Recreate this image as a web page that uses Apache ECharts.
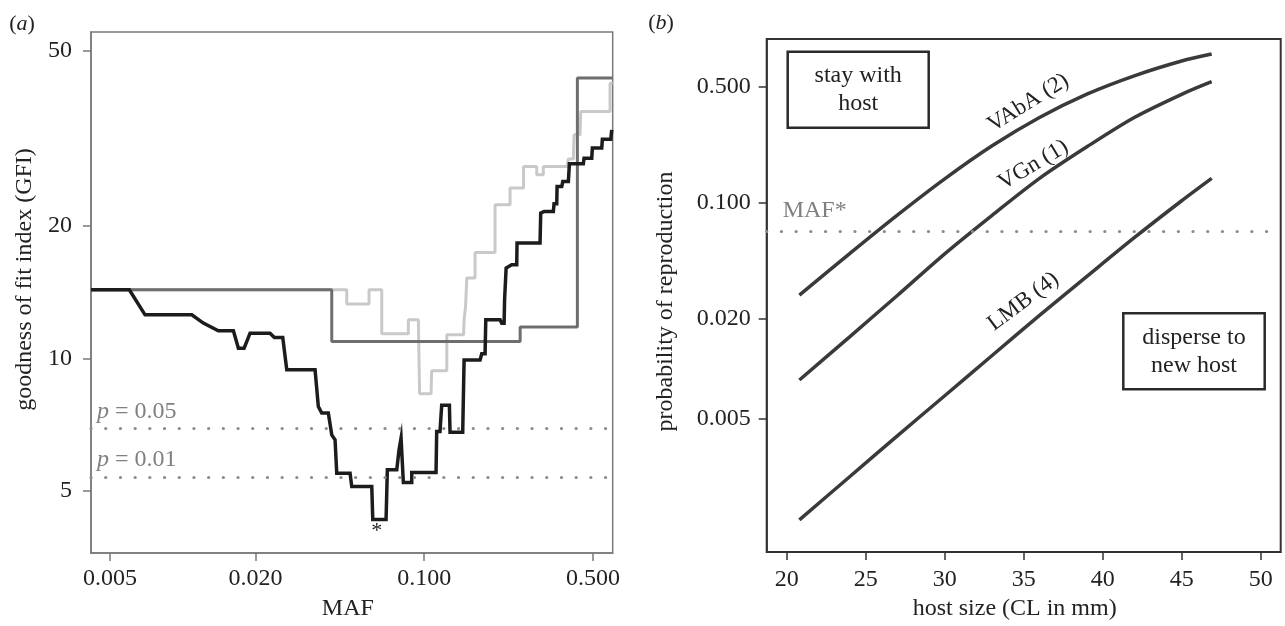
<!DOCTYPE html>
<html><head><meta charset="utf-8">
<script src="https://cdn.jsdelivr.net/npm/echarts@6/dist/echarts.min.js"></script>
<style>html,body{margin:0;padding:0;background:#fff}#c{width:1285px;height:626px}</style>
</head><body><div id="c"></div>
<script>
// ---------- panel (a) data ----------
const mafTicks = [0.005, 0.02, 0.1, 0.5];
const gfiTicks = [5, 10, 20, 50];
const blackMAF = [0.00417, 0.00601, 0.00698, 0.01090, 0.01217, 0.01404, 0.01621, 0.01700, 0.01795, 0.01900, 0.02298, 0.02395, 0.02595, 0.02696, 0.03531, 0.03643, 0.03763, 0.04007, 0.04140, 0.04273, 0.04342, 0.04930, 0.05010, 0.06063, 0.06121, 0.06949, 0.07034, 0.07694, 0.07864, 0.08017, 0.08194, 0.08876, 0.08876, 0.1119, 0.1126, 0.1162, 0.1181, 0.1271, 0.1279, 0.1443, 0.1462, 0.1703, 0.1730, 0.1786, 0.1798, 0.2060, 0.2094, 0.2141, 0.2151, 0.2183, 0.2303, 0.2415, 0.2422, 0.3016, 0.3036, 0.3133, 0.3424, 0.3447, 0.3537, 0.3548, 0.3710, 0.3746, 0.3951, 0.3990, 0.4557, 0.4588, 0.4938, 0.4967, 0.5433, 0.5464, 0.5920, 0.5976];
const blackGFI = [14.32, 14.32, 12.56, 12.56, 12.03, 11.55, 11.55, 10.55, 10.55, 11.41, 11.41, 11.15, 11.15, 9.42, 9.42, 7.77, 7.51, 7.51, 6.70, 6.53, 5.48, 5.48, 5.11, 5.11, 4.30, 4.30, 5.58, 5.58, 6.20, 6.59, 5.22, 5.22, 5.50, 5.50, 6.82, 6.82, 7.82, 7.82, 6.79, 6.79, 9.92, 9.92, 10.24, 10.24, 12.24, 12.24, 12.01, 12.01, 13.59, 16.04, 16.32, 16.32, 18.28, 18.28, 21.38, 21.57, 21.57, 22.46, 22.46, 24.58, 24.58, 25.23, 25.23, 27.68, 27.68, 28.52, 28.52, 30.06, 30.06, 31.50, 31.50, 33.07];
const darkMAF = [0.00417, 0.0414, 0.0414, 0.2495, 0.2495, 0.4306, 0.4306, 0.603];
const darkGFI = [14.32, 14.32, 10.92, 10.92, 11.78, 11.78, 43.4, 43.4];
const lightMAF = [0.00417, 0.04776, 0.04776, 0.05907, 0.05907, 0.06668, 0.06668, 0.08593, 0.08593, 0.09454, 0.09564, 0.1067, 0.1073, 0.1240, 0.1240, 0.1455, 0.1462, 0.1483, 0.1500, 0.1623, 0.1623, 0.1964, 0.1964, 0.2266, 0.2266, 0.2577, 0.2577, 0.2923, 0.2923, 0.3112, 0.3112, 0.3902, 0.3951, 0.4143, 0.4171, 0.4417, 0.4446, 0.5880, 0.5880, 0.603];
const lightGFI = [14.32, 14.32, 13.30, 13.30, 14.32, 14.32, 11.37, 11.37, 12.24, 12.24, 8.31, 8.31, 9.37, 9.37, 11.31, 11.31, 12.24, 13.12, 15.22, 15.22, 17.40, 17.40, 22.34, 22.34, 24.38, 24.38, 27.29, 27.29, 26.14, 26.14, 27.29, 27.29, 28.38, 28.38, 32.22, 32.22, 36.39, 36.39, 42.23, 42.23];
const pLevels = [6.94, 5.39];
const pLabels = ['0.05', '0.01'];
const starPoint = [0.0636, 4.04];

// ---------- panel (b) data ----------
const hostTicks = [20, 25, 30, 35, 40, 45, 50];
const probTicks = [0.005, 0.02, 0.1, 0.5];
const hostSize = [20.8, 24, 27, 30, 33, 36, 39, 42, 45, 46.9];
const pVAbA = [0.0277, 0.0494, 0.0840, 0.139, 0.220, 0.326, 0.451, 0.582, 0.715, 0.787];
const pVGn  = [0.00851, 0.01556, 0.02754, 0.0491, 0.0838, 0.140, 0.217, 0.326, 0.450, 0.536];
const pLMB  = [0.00122, 0.00223, 0.00392, 0.00684, 0.01197, 0.0209, 0.0359, 0.0614, 0.1026, 0.140];
const mafStar = 0.068;
const curveLabels = [
  {text: 'VAbA (2)', x: 35.29, y: 0.400, rot: 32},
  {text: 'VGn (1)', x: 35.61, y: 0.1685, rot: 31},
  {text: 'LMB (4)', x: 34.98, y: 0.02525, rot: 37}
];

const FONT = '"Liberation Serif", "DejaVu Serif", serif';
const lg = v => Math.log10(v);
const pairs = (xs, ys, fx, fy) => xs.map((x, i) => [fx(x), fy(ys[i])]);
const id = v => v;
const LC = '#7a7a7a';
const RC = '#333333';
const TXT = '#222';
const FS = 24;

const chart = echarts.init(document.getElementById('c'), null, {renderer: 'canvas'});

function axisCommon(color, ticks, fmt, margin) {
  return {
    axisLine: {show: true, onZero: false, lineStyle: {color: color, width: 1.5}},
    axisTick: {show: true, inside: false, length: 8, customValues: ticks, lineStyle: {color: color, width: 1.5}},
    axisLabel: {customValues: ticks, formatter: fmt, fontFamily: FONT, fontSize: FS, color: TXT, margin: margin},
    splitLine: {show: false}
  };
}
const nameStyle = {fontFamily: FONT, fontSize: FS, color: TXT};
const dotted = {color: '#8c8c8c', width: 3.2, type: [0.1, 14.6], cap: 'round'};

const option = {
  animation: false,
  backgroundColor: '#fff',
  textStyle: {fontFamily: FONT},
  grid: [
    {left: 91, top: 32, width: 521.7, height: 521.3, show: true, borderColor: LC, borderWidth: 1.5},
    {left: 766.7, top: 39, width: 514, height: 513.3, show: true, borderColor: RC, borderWidth: 2}
  ],
  xAxis: [
    Object.assign({gridIndex: 0, type: 'value', min: lg(0.00417), max: lg(0.603),
      name: 'MAF', nameLocation: 'middle', nameGap: 44, nameTextStyle: Object.assign({padding: [0, 8, 0, 0]}, nameStyle)},
      axisCommon(LC, mafTicks.map(lg), v => Math.pow(10, v).toFixed(3), 14)),
    Object.assign({gridIndex: 1, type: 'value', min: 18.73, max: 51.27,
      name: 'host size (CL in mm)', nameLocation: 'middle', nameGap: 44, nameTextStyle: Object.assign({padding: [0, 18, 0, 0]}, nameStyle)},
      axisCommon(RC, hostTicks, v => String(Math.round(v)), 16))
  ],
  yAxis: [
    Object.assign({gridIndex: 0, type: 'value', min: lg(3.61), max: lg(55.2),
      name: 'goodness of fit index (GFI)', nameLocation: 'middle', nameGap: 54, nameTextStyle: Object.assign({padding: [0, 0, 0, 26]}, nameStyle)},
      axisCommon(LC, gfiTicks.map(lg), v => String(Math.round(Math.pow(10, v))), 19)),
    Object.assign({gridIndex: 1, type: 'value', min: lg(0.00078), max: lg(0.97),
      name: 'probability of reproduction', nameLocation: 'middle', nameGap: 89, nameTextStyle: Object.assign({padding: [0, 12, 0, 0]}, nameStyle)},
      axisCommon(RC, probTicks.map(lg), v => Math.pow(10, v).toFixed(3), 16))
  ],
  series: [
    {type: 'line', xAxisIndex: 0, yAxisIndex: 0, name: 'light', data: pairs(lightMAF, lightGFI, lg, lg),
      showSymbol: false, symbol: 'none', lineStyle: {color: '#c9c9c9', width: 3}, z: 2,
      emphasis: {disabled: true}},
    {type: 'line', xAxisIndex: 0, yAxisIndex: 0, name: 'dark', data: pairs(darkMAF, darkGFI, lg, lg),
      showSymbol: false, symbol: 'none', lineStyle: {color: '#6e6e6e', width: 3}, z: 3,
      emphasis: {disabled: true},
      markLine: {silent: true, symbol: ['none', 'none'], animation: false, lineStyle: dotted,
        emphasis: {disabled: true},
        label: {show: true, position: 'insideStartTop', distance: [6, 5], color: '#808080', fontFamily: FONT, fontSize: FS,
          rich: {i: {fontStyle: 'italic', fontFamily: FONT, fontSize: FS, color: '#808080'}}},
        data: pLevels.map((v, i) => ({yAxis: lg(v), label: {formatter: '{i|p} = ' + pLabels[i]}}))}},
    {type: 'line', xAxisIndex: 0, yAxisIndex: 0, name: 'black', data: pairs(blackMAF, blackGFI, lg, lg),
      showSymbol: false, symbol: 'none', lineStyle: {color: '#1c1c1c', width: 3.5, join: 'miter'}, z: 4,
      emphasis: {disabled: true}},
    {type: 'line', xAxisIndex: 1, yAxisIndex: 1, name: 'VAbA', data: pairs(hostSize, pVAbA, id, lg),
      smooth: 0.3, showSymbol: false, symbol: 'none', lineStyle: {color: '#3a3a3a', width: 3.5}, z: 3,
      emphasis: {disabled: true},
      markLine: {silent: true, symbol: ['none', 'none'], animation: false, lineStyle: dotted,
        emphasis: {disabled: true},
        label: {show: true, position: 'insideStartTop', distance: [16, 8], color: '#808080', fontFamily: FONT, fontSize: FS, formatter: 'MAF*'},
        data: [{yAxis: lg(mafStar)}]}},
    {type: 'line', xAxisIndex: 1, yAxisIndex: 1, name: 'VGn', data: pairs(hostSize, pVGn, id, lg),
      smooth: 0.3, showSymbol: false, symbol: 'none', lineStyle: {color: '#3a3a3a', width: 3.5}, z: 3,
      emphasis: {disabled: true}},
    {type: 'line', xAxisIndex: 1, yAxisIndex: 1, name: 'LMB', data: pairs(hostSize, pLMB, id, lg),
      smooth: 0.3, showSymbol: false, symbol: 'none', lineStyle: {color: '#3a3a3a', width: 3.5}, z: 3,
      emphasis: {disabled: true}}
  ]
};
chart.setOption(option);

// ---------- annotations ----------
const P = (g, x, y) => chart.convertToPixel({gridIndex: g}, [x, y]);
const star = P(0, lg(starPoint[0]), lg(starPoint[1]));
const gfx = [
  {type: 'text', x: 22, y: 24, style: {text: '({i|a})', rich: {i: {fontStyle: 'italic', fontFamily: FONT, fontSize: 22, fill: TXT}},
    fontFamily: FONT, fontSize: 22, fill: TXT, align: 'center', verticalAlign: 'middle', textAlign: 'center', textVerticalAlign: 'middle'}},
  {type: 'text', x: 661, y: 23, style: {text: '({i|b})', rich: {i: {fontStyle: 'italic', fontFamily: FONT, fontSize: 22, fill: TXT}},
    fontFamily: FONT, fontSize: 22, fill: TXT, align: 'center', verticalAlign: 'middle', textAlign: 'center', textVerticalAlign: 'middle'}},
  {type: 'text', x: star[0], y: star[1], style: {text: '*', font: '22px ' + FONT, fill: TXT,
    align: 'center', verticalAlign: 'middle', textAlign: 'center', textVerticalAlign: 'middle'}}
];
curveLabels.forEach(c => {
  const p = P(1, c.x, lg(c.y));
  gfx.push({type: 'text', x: p[0], y: p[1], rotation: c.rot * Math.PI / 180,
    style: {text: c.text, font: '23px ' + FONT, fill: TXT, align: 'center', verticalAlign: 'middle', textAlign: 'center', textVerticalAlign: 'middle'}});
});
const boxes = [
  {x: 787.7, y: 51.7, w: 141, h: 76, text: 'stay with\nhost'},
  {x: 1123.3, y: 313.3, w: 141.4, h: 76, text: 'disperse to\nnew host'}
];
boxes.forEach(b => {
  gfx.push({type: 'rect', shape: {x: b.x, y: b.y, width: b.w, height: b.h}, style: {fill: '#fff', stroke: '#2a2a2a', lineWidth: 2.5}, z: 10});
  gfx.push({type: 'text', x: b.x + b.w / 2, y: b.y + b.h / 2, z: 11,
    style: {text: b.text, font: FS + 'px ' + FONT, lineHeight: 28, fill: TXT, align: 'center', verticalAlign: 'middle', textAlign: 'center', textVerticalAlign: 'middle'}});
});
chart.setOption({graphic: gfx});
</script></body></html>
